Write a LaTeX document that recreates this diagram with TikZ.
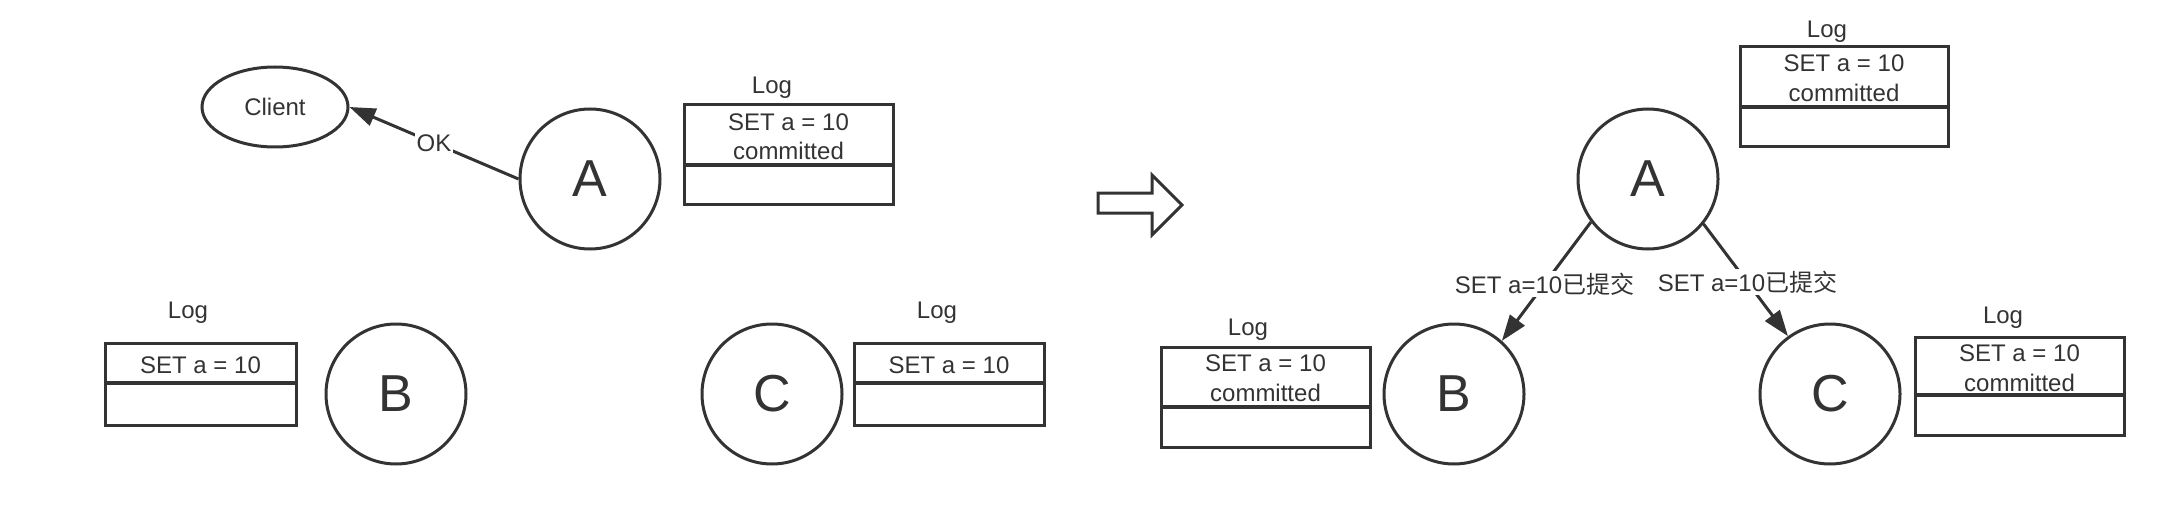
\documentclass[tikz,border=0pt]{standalone}
\usepackage{fontspec}
\setmainfont{Liberation Sans}
\newfontfamily\cjk{Noto Sans CJK SC}
\usetikzlibrary{arrows.meta,shapes.geometric}
\definecolor{ink}{HTML}{333333}
\tikzset{
  server/.style={circle, draw=ink, line width=1.5pt, minimum size=70pt, inner sep=0pt, font=\fontsize{26}{28}\selectfont, text=ink},
  client/.style={ellipse, draw=ink, line width=1.5pt, minimum width=73pt, minimum height=40pt, inner sep=0pt, font=\fontsize{12}{14}\selectfont, text=ink},
  logbox/.style={rectangle, draw=ink, line width=1.5pt, inner sep=0pt},
  divider/.style={draw=ink, line width=2.4pt},
  txt/.style={font=\fontsize{12}{14}\selectfont, text=ink, inner sep=1pt},
  conn/.style={draw=ink, line width=1.5pt, -{Triangle[length=13pt,width=9pt]}},
  lbl/.style={font=\fontsize{12}{14}\selectfont, text=ink, fill=white, inner sep=1pt},
  bigarrow/.style={draw=ink, line width=1.5pt, line join=miter}
}
\begin{document}
\begin{tikzpicture}[x=0.5pt, y=-0.5pt]
\useasboundingbox (0,0) rectangle (2180,508);
% ---------- left half ----------
\node[client] (client) at (275,107) {Client};
\node[server] (A1) at (590,179) {A};
\node[server] (B1) at (396,394) {B};
\node[server] (C1) at (772,394) {C};
\draw[conn] (A1.west) -- node[lbl, pos=0.5] {OK} (client.east);
% log of A (left)
\node[logbox, minimum width=104.5pt, minimum height=49.5pt] (logA1) at (788.5,154.5) {};
\node[txt] (logA1t) at (772,88) {Log};
\node[txt] (logA1a) at (788.5,122) {SET a = 10};
\node[txt] (logA1b) at (788.5,151) {committed};
\coordinate (dA1l) at (684,165); \coordinate (dA1r) at (893,165);
\draw[divider] (dA1l) -- (dA1r);
% log of B (left)
\node[logbox, minimum width=95.5pt, minimum height=41pt] (logB1) at (200.5,384) {};
\node[txt] (logB1t) at (188,313) {Log};
\node[txt] (logB1a) at (200.5,365) {SET a = 10};
\coordinate (dB1l) at (105,383); \coordinate (dB1r) at (296,383);
\draw[divider] (dB1l) -- (dB1r);
% log of C (left)
\node[logbox, minimum width=95pt, minimum height=41pt] (logC1) at (949,384) {};
\node[txt] (logC1t) at (937,313) {Log};
\node[txt] (logC1a) at (949,365) {SET a = 10};
\coordinate (dC1l) at (854,383); \coordinate (dC1r) at (1044,383);
\draw[divider] (dC1l) -- (dC1r);
% ---------- transition arrow ----------
\draw[bigarrow] (1098,193) -- (1152,193) -- (1152,175) -- (1182,205) -- (1152,235) -- (1152,213) -- (1098,213) -- cycle;
% ---------- right half ----------
\node[server] (A2) at (1648,179) {A};
\node[server] (B2) at (1454,394) {B};
\node[server] (C2) at (1830,394) {C};
\draw[conn] (A2.217) -- node[lbl, pos=0.52] {SET a=10{\cjk 已提交}} (B2.48);
\draw[conn] (A2.321) -- node[lbl, pos=0.52] {SET a=10{\cjk 已提交}} (C2.126);
% log of A (right)
\node[logbox, minimum width=104pt, minimum height=50pt] (logA2) at (1844,97) {};
\node[txt] (logA2t) at (1827,32) {Log};
\node[txt] (logA2a) at (1844,63) {SET a = 10};
\node[txt] (logA2b) at (1844,93) {committed};
\coordinate (dA2l) at (1740,107); \coordinate (dA2r) at (1948,107);
\draw[divider] (dA2l) -- (dA2r);
% log of B (right)
\node[logbox, minimum width=104.5pt, minimum height=50pt] (logB2) at (1265.5,397) {};
\node[txt] (logB2t) at (1248,330) {Log};
\node[txt] (logB2a) at (1265.5,363) {SET a = 10};
\node[txt] (logB2b) at (1265.5,393) {committed};
\coordinate (dB2l) at (1161,407); \coordinate (dB2r) at (1370,407);
\draw[divider] (dB2l) -- (dB2r);
% log of C (right)
\node[logbox, minimum width=104.5pt, minimum height=49pt] (logC2) at (2019.5,386) {};
\node[txt] (logC2t) at (2003,318) {Log};
\node[txt] (logC2a) at (2019.5,353) {SET a = 10};
\node[txt] (logC2b) at (2019.5,383) {committed};
\coordinate (dC2l) at (1915,395); \coordinate (dC2r) at (2124,395);
\draw[divider] (dC2l) -- (dC2r);
\end{tikzpicture}
\end{document}
